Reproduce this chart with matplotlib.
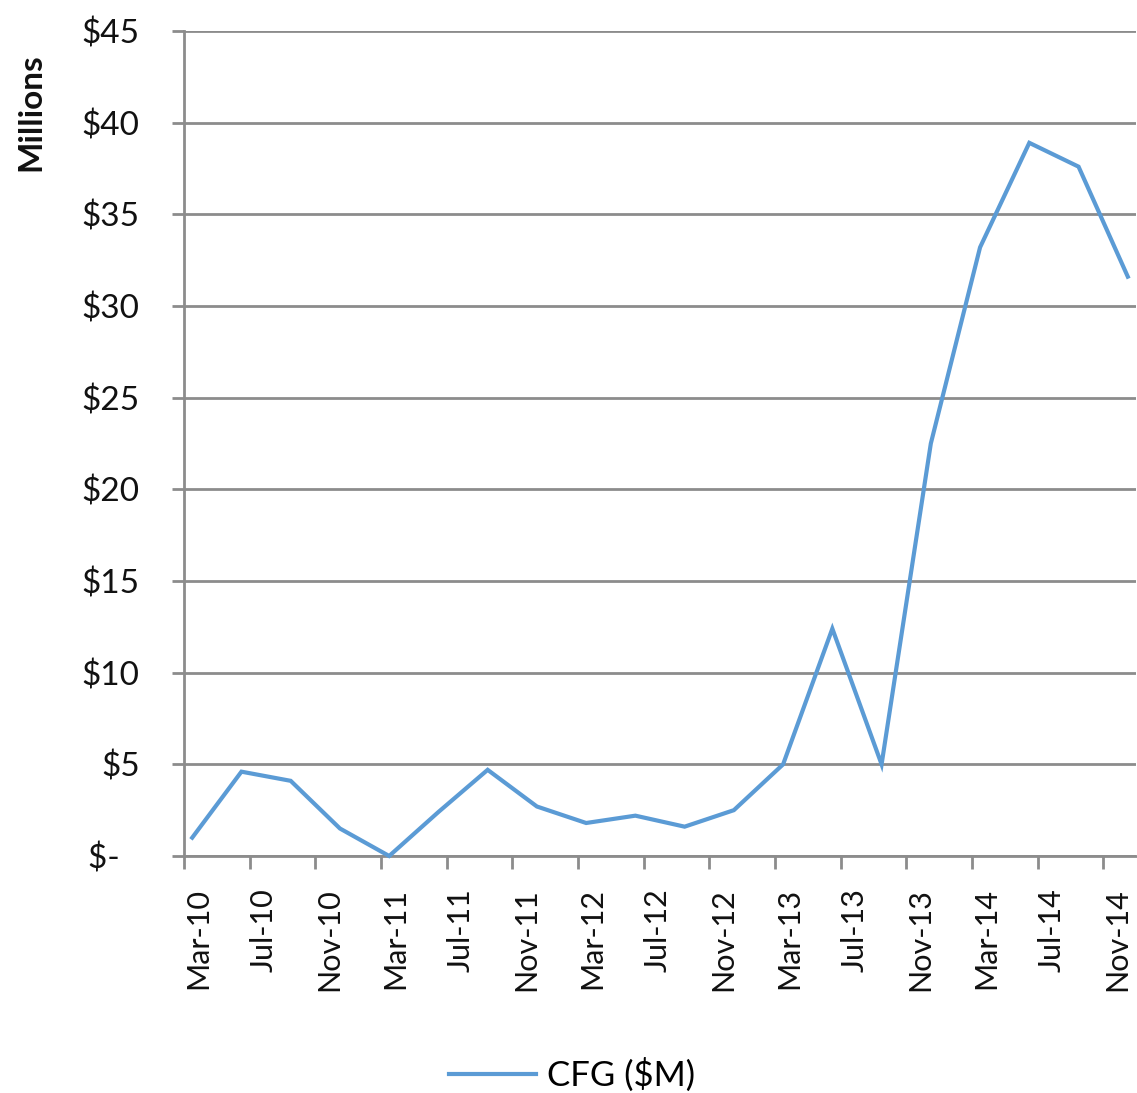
import matplotlib
matplotlib.use("Agg")
import matplotlib.pyplot as plt
import numpy as np
import pandas as pd

# quarterly observations (month of quarter end), values in $ millions
periods = ["Mar-10", "Jun-10", "Sep-10", "Dec-10",
           "Mar-11", "Jun-11", "Sep-11", "Dec-11",
           "Mar-12", "Jun-12", "Sep-12", "Dec-12",
           "Mar-13", "Jun-13", "Sep-13", "Dec-13",
           "Mar-14", "Jun-14", "Sep-14", "Dec-14"]
cfg = [1.0, 4.6, 4.1, 1.5,
       0.0, 2.4, 4.7, 2.7,
       1.8, 2.2, 1.6, 2.5,
       5.0, 12.4, 5.0, 22.5,
       33.2, 38.9, 37.6, 31.6]
tick_labels = ["Mar-10", "Jul-10", "Nov-10", "Mar-11", "Jul-11", "Nov-11",
               "Mar-12", "Jul-12", "Nov-12", "Mar-13", "Jul-13", "Nov-13",
               "Mar-14", "Jul-14", "Nov-14"]
y_ticks = [0, 5, 10, 15, 20, 25, 30, 35, 40, 45]

FONT = ["Lato", "DejaVu Sans"]
BLUE = "#5B9BD5"
GRID = "#8c8c8c"
INK = "#111111"


def month_index(label, origin=pd.Period("2010-03", "M")):
    p = pd.Period(pd.to_datetime(label, format="%b-%y"), "M")
    return (p - origin).n


def main():
    # Excel date axis: points sit in the middle of their month slot
    x = np.array([month_index(p) for p in periods]) + 0.5
    xt = [month_index(t) for t in tick_labels]

    fig = plt.figure(figsize=(11.37, 10.93), dpi=100)
    ax = fig.add_axes([184 / 1137, 1 - 856 / 1093, (1136 - 184) / 1137, (856 - 31) / 1093])

    ax.set_ylim(0, 45)
    ax.set_xlim(0, 58)
    ax.set_yticks(y_ticks)
    # accounting format: zero shows as "$-" with trailing padding
    ax.set_yticklabels(["$-\u2007" if v == 0 else f"${v}" for v in y_ticks],
                       family=FONT, fontsize=24, color=INK)
    ax.set_xticks(xt)
    ax.set_xticklabels(tick_labels, rotation=90, ha="left", family=FONT, fontsize=22, color=INK)

    ax.grid(axis="y", color=GRID, linewidth=2.0, zorder=0)
    ax.set_axisbelow(True)
    for s in ("top", "right"):
        ax.spines[s].set_visible(False)
    for s in ("left", "bottom"):
        ax.spines[s].set_color(GRID)
        ax.spines[s].set_linewidth(2.0)
    ax.tick_params(axis="both", color=GRID, width=2.0, length=9)
    ax.tick_params(axis="y", pad=23)
    ax.tick_params(axis="x", pad=14)

    line, = ax.plot(x, cfg, color=BLUE, linewidth=3.0, solid_joinstyle="miter",
                    clip_on=False, label="CFG ($M)", zorder=3)

    fig.text(31 / 1137, 1 - 112 / 1093, "Millions", rotation=90, ha="center", va="center",
             family=FONT, fontsize=24, fontweight="bold", color=INK)

    fig.legend(handles=[line], loc="center", bbox_to_anchor=(572 / 1137, 1 - 1075 / 1093),
               frameon=False, prop={"family": FONT, "size": 25}, handlelength=2.5,
               handletextpad=0.3)

    fig.savefig("out.png", facecolor="white")
    plt.close(fig)


if __name__ == "__main__":
    main()
